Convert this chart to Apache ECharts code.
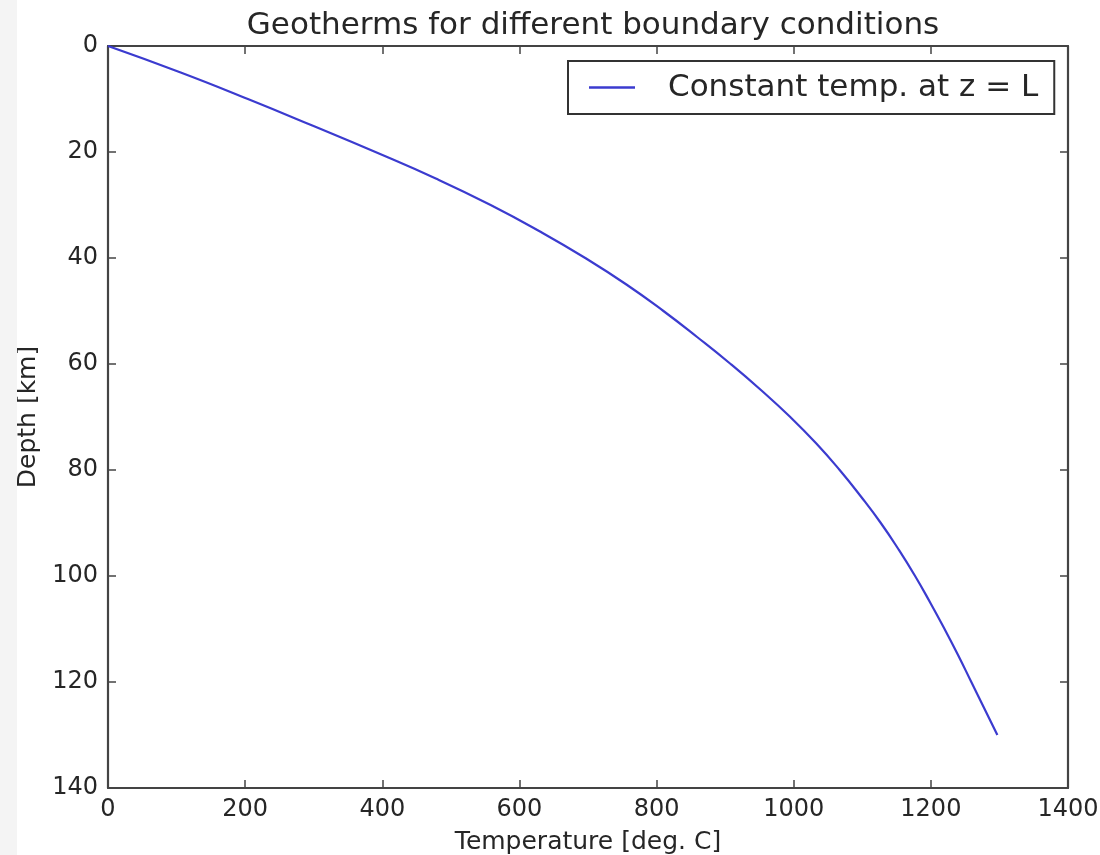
<!DOCTYPE html>
<html>
<head>
<meta charset="utf-8">
<script src="https://cdn.jsdelivr.net/npm/echarts@6/dist/echarts.min.js"></script>
<style>
  html, body { margin: 0; padding: 0; background: #f4f4f4; overflow: hidden; }
  #chart { position: absolute; left: 17px; top: 0; width: 1083px; height: 855px; background: #ffffff; }
</style>
</head>
<body>
<div id="chart"></div>
<script>
// Data
const depthKm = [0, 5, 10, 15, 20, 25, 30, 35, 40, 45, 50, 55, 60, 65, 70, 75, 80, 85, 90, 95, 100, 105, 110, 115, 120, 125, 130];
const temperatureC = [0, 106, 204, 298, 390, 478, 558, 630, 696, 756, 810, 860, 908, 953, 995, 1033, 1067, 1098, 1127, 1153, 1177, 1199, 1220, 1240, 1259, 1278, 1297];
const seriesName = 'Constant temp. at z = L';
const xTicks = [0, 200, 400, 600, 800, 1000, 1200, 1400];
const yTicks = [0, 20, 40, 60, 80, 100, 120, 140];

const FONT = 'DejaVu Sans';
const FRAME = '#444444';
const TEXT = '#262626';
const LINE = '#3b3bcf';

const points = depthKm.map((z, i) => [temperatureC[i], z]);

const chart = echarts.init(document.getElementById('chart'), null, { renderer: 'canvas' });

const tickCommon = { show: true, inside: true, length: 8, lineStyle: { color: FRAME, width: 1.5 } };
const lineCommon = { show: true, onZero: false, lineStyle: { color: FRAME, width: 2.2 } };
const plainNum = v => String(v);

chart.setOption({
  animation: false,
  backgroundColor: '#ffffff',
  textStyle: { fontFamily: FONT },
  title: {
    text: 'Geotherms for different boundary conditions',
    left: (108 + 1068) / 2 - 17,
    textAlign: 'center',
    top: 5,
    textStyle: { fontFamily: FONT, fontSize: 31, fontWeight: 'normal', color: TEXT }
  },
  legend: {
    show: true,
    data: [{ name: seriesName, icon: 'rect' }],
    left: 568 - 17,
    top: 61,
    orient: 'horizontal',
    padding: [11, 16, 11, 21],
    borderColor: '#333333',
    borderWidth: 2,
    backgroundColor: '#ffffff',
    itemWidth: 46,
    itemHeight: 2.5,
    textStyle: { fontFamily: FONT, fontSize: 31, color: TEXT, padding: [0, 0, 0, 28] }
  },
  grid: { left: 108 - 17, right: 32, top: 46, bottom: 67, containLabel: false, outerBoundsMode: 'none' },
  xAxis: [
    {
      type: 'value', position: 'bottom', min: xTicks[0], max: xTicks[xTicks.length - 1], interval: 200,
      axisLine: lineCommon, axisTick: tickCommon, splitLine: { show: false },
      axisLabel: { show: true, fontFamily: FONT, fontSize: 24, color: TEXT, margin: 10, formatter: plainNum },
      name: 'Temperature [deg. C]', nameLocation: 'middle', nameGap: 42,
      nameTextStyle: { fontFamily: FONT, fontSize: 25, color: TEXT }
    },
    {
      type: 'value', position: 'top', min: xTicks[0], max: xTicks[xTicks.length - 1], interval: 200,
      axisLine: lineCommon, axisTick: tickCommon, splitLine: { show: false },
      axisLabel: { show: false }
    }
  ],
  yAxis: [
    {
      type: 'value', position: 'left', inverse: true, min: yTicks[0], max: yTicks[yTicks.length - 1], interval: 20,
      axisLine: lineCommon, axisTick: tickCommon, splitLine: { show: false },
      axisLabel: { show: true, fontFamily: FONT, fontSize: 24, color: TEXT, margin: 10, formatter: plainNum },
      name: 'Depth [km]', nameLocation: 'middle', nameRotate: 90, nameGap: 66,
      nameTextStyle: { fontFamily: FONT, fontSize: 25, color: TEXT }
    },
    {
      type: 'value', position: 'right', inverse: true, min: yTicks[0], max: yTicks[yTicks.length - 1], interval: 20,
      axisLine: lineCommon, axisTick: tickCommon, splitLine: { show: false },
      axisLabel: { show: false }
    }
  ],
  series: [
    {
      name: seriesName,
      type: 'line',
      xAxisIndex: 0,
      yAxisIndex: 0,
      data: points,
      smooth: 0.5,
      symbol: 'none',
      showSymbol: false,
      color: LINE,
      lineStyle: { color: LINE, width: 2.2 },
      itemStyle: { color: LINE }
    }
  ]
});
</script>
</body>
</html>
